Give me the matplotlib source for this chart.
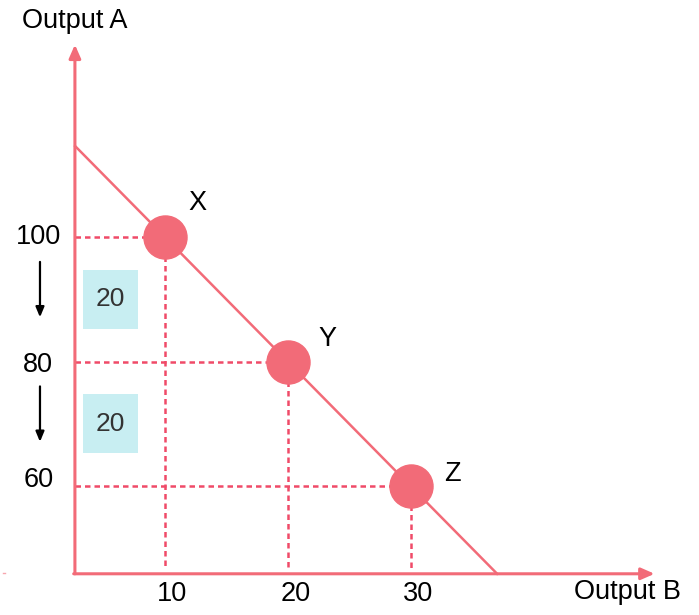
import numpy as np
import matplotlib
matplotlib.use('Agg')
import matplotlib.pyplot as plt
from matplotlib.patches import Rectangle

plt.rcParams['font.family'] = ['Liberation Sans', 'DejaVu Sans']

# data
points = ['X', 'Y', 'Z']
output_b = [10, 20, 30]
output_a = [100, 80, 60]
changes = [20, 20]
ppf_x = [2.7, 37.0]
ppf_a = [114.6, 45.9]

red = '#f26b78'
dash_red = '#f04a68'

fig = plt.figure(figsize=(6.99, 6.15), dpi=100)
ax = fig.add_axes([0, 0, 1, 1])
ax.set_xlim(-3.41, 53.41)
ax.set_ylim(39.28, 138.07)
ax.axis('off')

x0, y0 = 2.68, 45.9

# axes arrows
ax.annotate('', xy=(x0, 130.9), xytext=(x0, y0),
            arrowprops=dict(arrowstyle='-|>,head_length=0.8,head_width=0.35', color=red, lw=2.2, shrinkA=0, shrinkB=0))
ax.annotate('', xy=(49.8, y0), xytext=(x0 - 0.1, y0),
            arrowprops=dict(arrowstyle='-|>,head_length=0.8,head_width=0.35', color=red, lw=2.2, shrinkA=0, shrinkB=0))
ax.text(x0, 134.7, 'Output A', fontsize=19.5, ha='center', va='center')
ax.text(47.6, 43.0, 'Output B', fontsize=19.5, ha='center', va='center')

# PPF line
ax.plot(ppf_x, ppf_a, color=red, lw=1.8)

# dashed guides
for b, a in zip(output_b, output_a):
    ax.plot([x0, b], [a, a], color=dash_red, lw=1.8, ls=(0, (2.2, 1.6)))
    ax.plot([b, b], [a, y0 + 1], color=dash_red, lw=1.8, ls=(0, (2.2, 1.6)))

ax.plot(output_b, output_a, 'o', color=red, ms=31, zorder=5)
offsets = [(2.6, 5.4), (3.2, 3.6), (3.4, 1.9)]
for p, b, a, (dx, dy) in zip(points, output_b, output_a, offsets):
    ax.text(b + dx, a + dy, p, fontsize=19.5, ha='center', va='center')

# tick labels
for b in output_b:
    ax.text(b + 0.6, 42.6, str(b), fontsize=19.5, ha='center', va='center')
for a in output_a:
    ax.text(-0.3, a + (0 if a > 60 else 0.9) - (0.5 if a == 80 else 0), str(a),
            fontsize=19.5, ha='center', va='center')

# change boxes and arrows
for i, c in enumerate(changes):
    top = output_a[i]
    mid = top - c / 2
    ax.add_patch(Rectangle((3.33, mid - 4.7), 4.47, 9.4, color='#c8eef2', lw=0))
    ax.text(5.56, mid, str(c), fontsize=19, color='#333333', ha='center', va='center')
    ax.annotate('', xy=(-0.16, top - 12.9), xytext=(-0.16, top - 4.0),
                arrowprops=dict(arrowstyle='-|>,head_length=0.6,head_width=0.25', color='black', lw=1.6, shrinkA=0, shrinkB=0))

ax.plot([-3.2, -3.0], [46.1, 46.1], color=red, lw=1, alpha=0.6)

fig.savefig('out.png', dpi=100)
